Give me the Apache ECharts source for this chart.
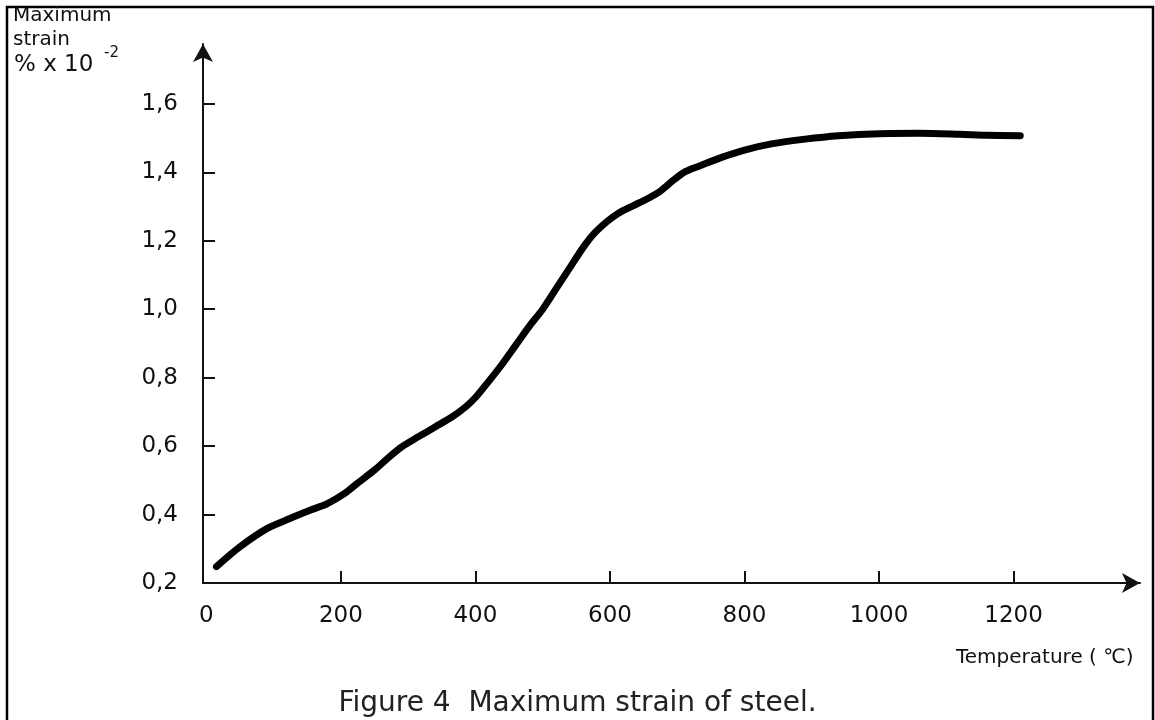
<!DOCTYPE html>
<html>
<head>
<meta charset="utf-8">
<title>Maximum strain of steel</title>
<script src="https://cdn.jsdelivr.net/npm/echarts/dist/echarts.min.js"></script>
<style>
  html, body { margin: 0; padding: 0; background: #ffffff; }
  #chart { width: 1155px; height: 720px; }
</style>
</head>
<body>
<div id="chart"></div>
<script>
// Temperature (°C) and maximum strain (% x 10^-2) along the curve
const temperature = [15, 50, 90, 125, 155, 180, 205, 225, 250, 270, 290, 315, 340, 365, 385, 400,
  420, 440, 460, 480, 500, 520, 540, 560, 575, 595, 612, 635, 655, 675, 695, 712, 735, 765, 800,
  840, 890, 940, 1000, 1060, 1120, 1160, 1210];
const maxStrain = [0.248, 0.306, 0.359, 0.389, 0.413, 0.432, 0.461, 0.492, 0.53, 0.565, 0.597,
  0.627, 0.656, 0.685, 0.714, 0.742, 0.79, 0.84, 0.895, 0.95, 1.0, 1.06, 1.12, 1.18, 1.218,
  1.255, 1.28, 1.303, 1.322, 1.345, 1.378, 1.402, 1.42, 1.443, 1.465, 1.483, 1.497, 1.507, 1.513,
  1.514, 1.511, 1.508, 1.507];

// Axis tick labels
const xTickValues = [0, 200, 400, 600, 800, 1000, 1200];
const yTickValues = [0.2, 0.4, 0.6, 0.8, 1.0, 1.2, 1.4, 1.6];

const FONT = '"DejaVu Sans", Verdana, sans-serif';
const INK = '#111111';

const points = temperature.map((t, i) => [t, maxStrain[i]]);

const chart = echarts.init(document.getElementById('chart'), null, { renderer: 'canvas' });

chart.setOption({
  animation: false,
  backgroundColor: '#ffffff',
  grid: { left: 203, right: 15, top: 44, bottom: 137, containLabel: false },
  xAxis: {
    type: 'value',
    min: -5,
    max: 1388,
    axisLine: {
      onZero: false,
      symbol: ['none', 'arrow'],
      symbolSize: [15, 18],
      lineStyle: { color: INK, width: 2 }
    },
    axisTick: {
      show: true,
      inside: true,
      length: 12,
      customValues: xTickValues.filter(v => v > 0),
      lineStyle: { color: INK, width: 2 }
    },
    axisLabel: {
      customValues: xTickValues,
      margin: 22,
      fontFamily: FONT,
      fontSize: 23,
      color: INK,
      formatter: v => String(v)
    },
    splitLine: { show: false }
  },
  yAxis: {
    type: 'value',
    min: 0.2,
    max: 1.775,
    axisLine: {
      onZero: false,
      symbol: ['none', 'arrow'],
      symbolSize: [15, 18],
      lineStyle: { color: INK, width: 2 }
    },
    axisTick: {
      show: true,
      inside: true,
      length: 12,
      customValues: yTickValues.filter(v => v > 0.2),
      lineStyle: { color: INK, width: 2 }
    },
    axisLabel: {
      customValues: yTickValues,
      margin: 25,
      fontFamily: FONT,
      fontSize: 23,
      color: INK,
      formatter: v => v.toFixed(1).replace('.', ',')
    },
    splitLine: { show: false }
  },
  series: [{
    type: 'line',
    data: points,
    smooth: 0.3,
    showSymbol: false,
    lineStyle: { color: '#000000', width: 7, cap: 'round', join: 'round' }
  }],
  graphic: [
    // outer frame
    {
      type: 'rect',
      shape: { x: 7, y: 7, width: 1146, height: 730 },
      style: { fill: null, stroke: '#000000', lineWidth: 2.5 },
      silent: true
    },
    // y-axis caption
    {
      type: 'text', left: 13, top: 6,
      style: { text: 'Maximum', font: '20px ' + FONT, fill: INK }
    },
    {
      type: 'text', left: 13, top: 30,
      style: { text: 'strain', font: '20px ' + FONT, fill: INK }
    },
    {
      type: 'text', left: 14, top: 54,
      style: { text: '% x 10', font: '23px ' + FONT, fill: INK }
    },
    {
      type: 'text', left: 104, top: 46,
      style: { text: '-2', font: '15px ' + FONT, fill: INK }
    },
    // x-axis caption
    {
      type: 'text', left: 956, top: 648,
      style: { text: 'Temperature ( \u2103)', font: '20px ' + FONT, fill: INK }
    },
    // figure caption
    {
      type: 'text', left: 'center', top: 690,
      style: { text: 'Figure 4  Maximum strain of steel.', font: '28px ' + FONT, fill: '#222222' }
    }
  ]
});
</script>
</body>
</html>
